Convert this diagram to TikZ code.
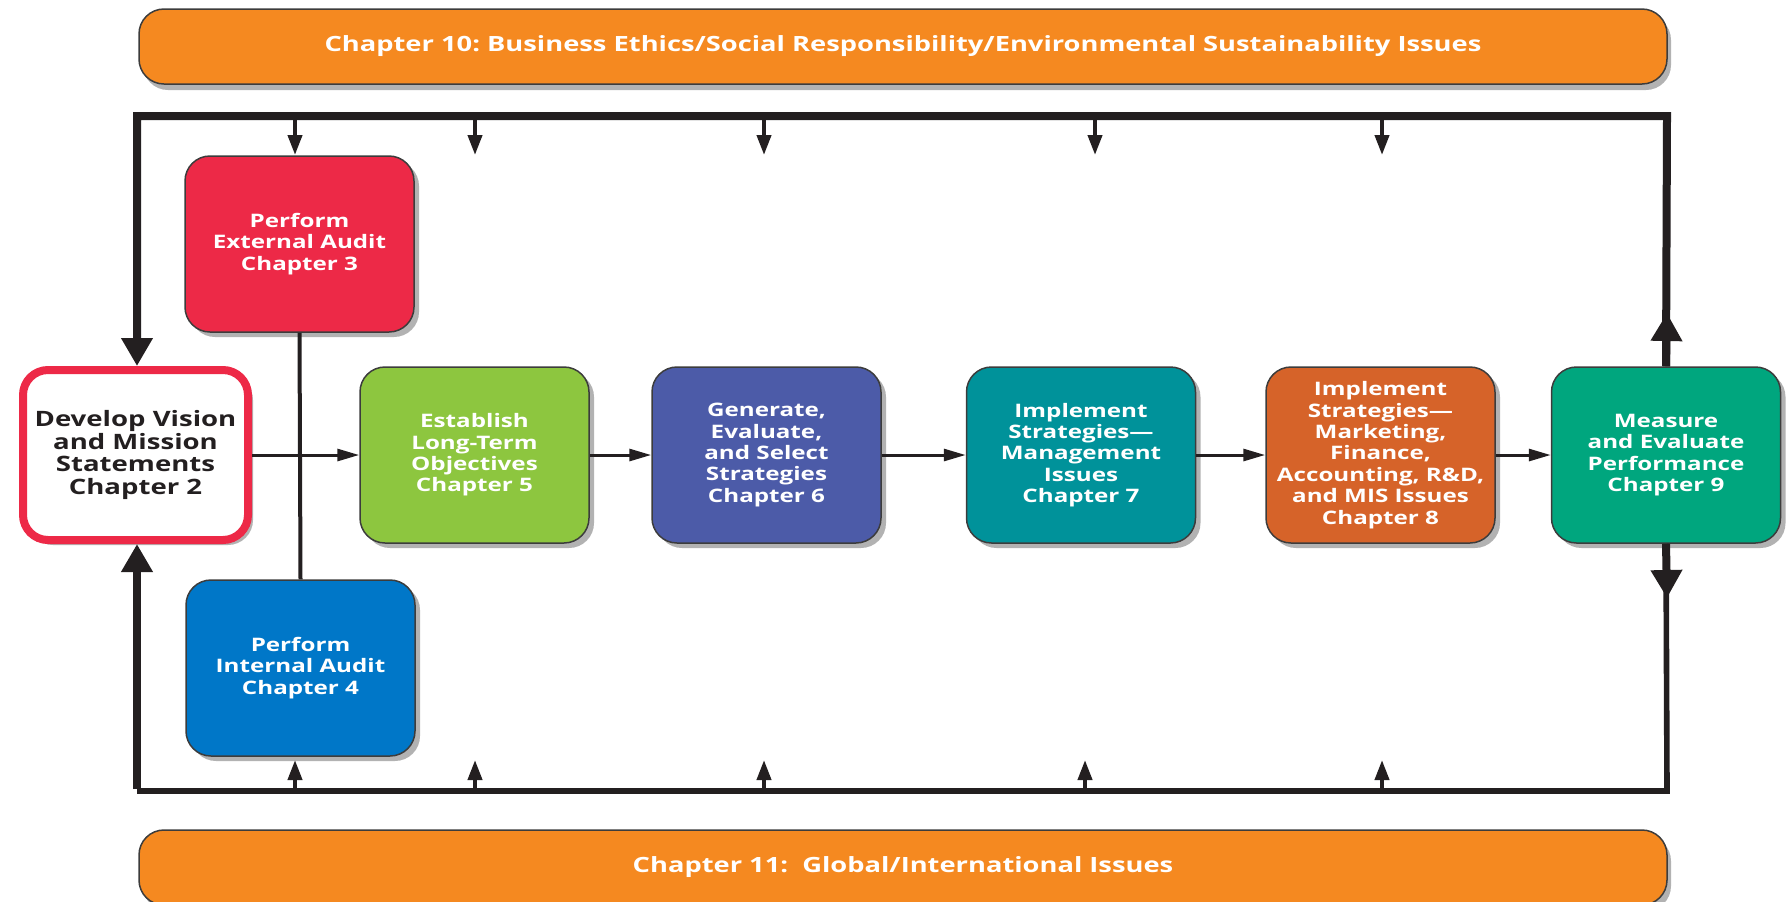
\documentclass[tikz,border=0pt]{standalone}
\usepackage{fontspec}
\setmainfont{Open Sans}[FakeStretch=1.3]
\usetikzlibrary{arrows.meta,shadows}
\frenchspacing

\definecolor{barorange}{RGB}{245,137,32}
\definecolor{extred}{RGB}{237,41,71}
\definecolor{intblue}{RGB}{0,119,200}
\definecolor{objgreen}{RGB}{141,198,63}
\definecolor{stratblue}{RGB}{76,91,168}
\definecolor{mgmtteal}{RGB}{0,146,154}
\definecolor{funcorange}{RGB}{214,99,41}
\definecolor{measgreen}{RGB}{0,166,126}
\definecolor{linedark}{RGB}{35,31,32}
\definecolor{edgegray}{RGB}{60,60,60}

\tikzset{every picture/.style={line width=0.75pt}}
\tikzset{
  stagebox/.style={draw=edgegray, line width=0.75pt, rounded corners=12.5pt,
    minimum width=114.5pt, minimum height=88pt, inner sep=1pt, align=center,
    text=white, font=\bfseries\fontsize{9.3}{10.7}\selectfont,
    drop shadow={shadow xshift=2.5pt, shadow yshift=-2.5pt, opacity=0.3, fill=black}},
  issuebar/.style={draw=edgegray, line width=0.75pt, rounded corners=12.5pt, fill=barorange,
    minimum width=764pt, minimum height=37.5pt, text=white,
    font=\bfseries\fontsize{10.5}{12}\selectfont,
    drop shadow={shadow xshift=2pt, shadow yshift=-3pt, opacity=0.3, fill=black}},
  flowarrow/.style={draw=linedark, line width=1.5pt, -{Triangle[length=11pt,width=6pt]}},
  tickarrow/.style={draw=linedark, line width=2pt, -{Triangle[length=10pt,width=7pt]}},
  bigarrow/.style={draw=linedark, line width=4pt, -{Triangle[length=14pt,width=15pt]}},
}

\begin{document}
\begin{tikzpicture}[x=0.5pt,y=0.5pt,yscale=-1,xscale=1]
\useasboundingbox (0,0) rectangle (1787,901);

%Shape: Issue Bars
\node[issuebar] (ethicsbar) at (903,46.5) {Chapter 10: Business Ethics/Social Responsibility/Environmental Sustainability Issues};
\node[issuebar] (globalbar) at (903,867.5) {Chapter 11:~~Global/International Issues};

%Frame corners
\coordinate (tl) at (137,116);
\coordinate (tr) at (1667,116);
\coordinate (bl) at (137,791);
\coordinate (br) at (1667,791);

%Shape: Stage Boxes
\node[stagebox, draw=extred, line width=4pt, fill=white, text=linedark,
  font=\bfseries\fontsize{10.6}{11.3}\selectfont, minimum width=112.5pt, minimum height=85pt]
  (vision) at (135.5,455) {Develop Vision\\and Mission\\Statements\\Chapter 2};
\node[stagebox, fill=extred] (extaudit) at (299.5,244) {Perform\\External Audit\\Chapter 3};
\node[stagebox, fill=intblue] (intaudit) at (300.5,668) {Perform\\Internal Audit\\Chapter 4};
\node[stagebox, fill=objgreen] (objectives) at (474.5,455) {Establish\\Long-Term\\Objectives\\Chapter 5};
\node[stagebox, fill=stratblue] (strategies) at (766.5,455) {Generate,\\Evaluate,\\and Select\\Strategies\\Chapter 6};
\node[stagebox, fill=mgmtteal] (mgmt) at (1081,455) {Implement\\Strategies—\\Management\\Issues\\Chapter 7};
\node[stagebox, fill=funcorange] (functional) at (1380.5,455) {Implement\\Strategies—\\Marketing,\\Finance,\\Accounting, R\&D,\\and MIS Issues\\Chapter 8};
\node[stagebox, fill=measgreen] (measure) at (1666,455) {Measure\\and Evaluate\\Performance\\Chapter 9};

%Audit line
\draw[draw=linedark, line width=2pt] (extaudit.south) -- (intaudit.north);

%Straight Lines: main flow
\draw[flowarrow] (vision) -- (objectives);
\draw[flowarrow] (objectives) -- (strategies);
\draw[flowarrow] (strategies) -- (mgmt);
\draw[flowarrow] (mgmt) -- (functional);
\draw[flowarrow] (functional) -- (measure);

%Feedback frame
\coordinate (upTip) at (1667,313);
\coordinate (downTip) at (1667,598);
\draw[bigarrow] (measure.north) -- (tr) -- (tl) -- (tl |- vision.north);
\draw[draw=linedark, line width=2.8pt] (measure.south) -- (br) -- (bl);
\draw[bigarrow] ([yshift=-1pt]bl) -- (bl |- vision.south);
\draw[bigarrow] (measure.north) -- (upTip);
\draw[bigarrow] (measure.south) -- (downTip);

%Small feed arrows
\foreach \x [count=\i] in {295,475,764,1095,1382}{
  \coordinate (fromtop\i) at (\x,116);
  \coordinate (totop\i) at (\x,155);
  \draw[tickarrow] (fromtop\i) -- (totop\i);
}
\foreach \x [count=\i] in {295,475,764,1085,1382}{
  \coordinate (frombot\i) at (\x,791);
  \coordinate (tobot\i) at (\x,760);
  \draw[tickarrow] (frombot\i) -- (tobot\i);
}

\end{tikzpicture}
\end{document}
